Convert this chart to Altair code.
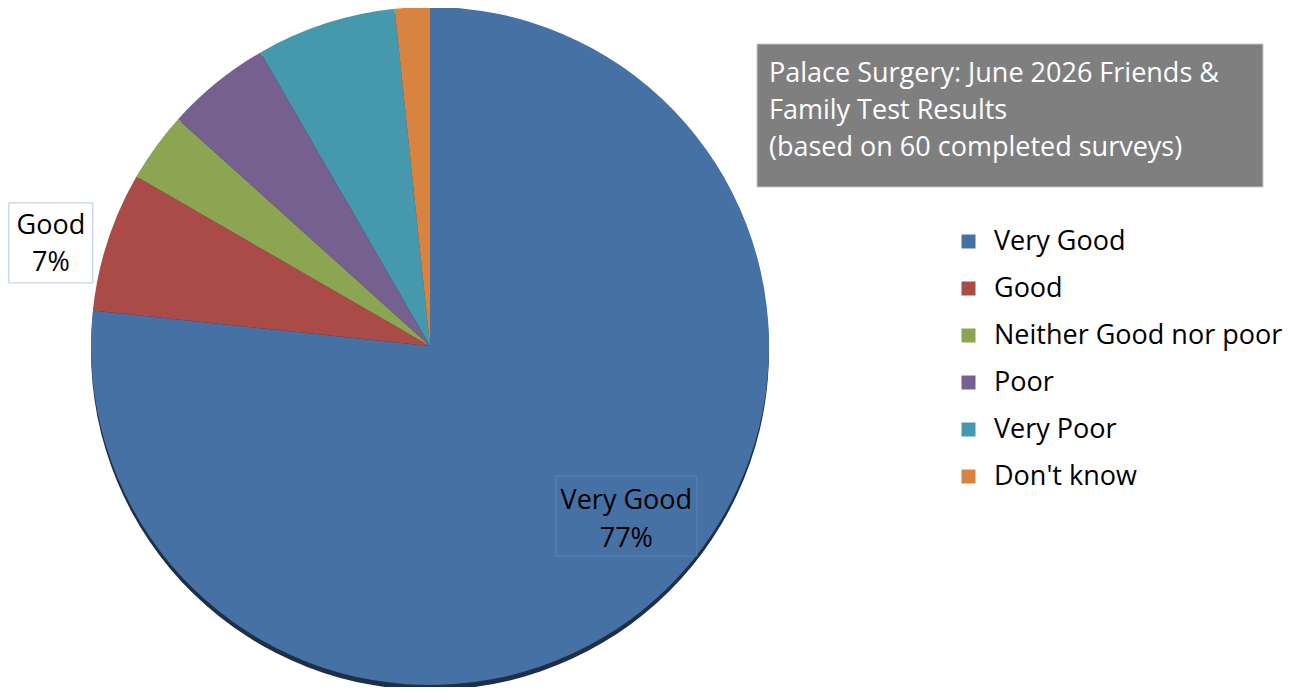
import altair as alt
import pandas as pd

categories = ["Very Good", "Good", "Neither Good nor poor", "Poor", "Very Poor", "Don't know"]
counts = [46, 4, 2, 3, 4, 1]
colors = ["#4671a5", "#aa4b48", "#8ba552", "#76608f", "#4698ad", "#d88440"]
title_lines = ["Palace Surgery: June 2026 Friends &", "Family Test Results", "(based on 60 completed surveys)"]

df = pd.DataFrame({"category": categories, "count": counts, "idx": list(range(len(categories)))})

CX, CY, R = 422, 338, 339
FONT = "Open Sans"
FS = 27

base = alt.Chart(df)

shadow = base.mark_arc(outerRadius=R, color="#1e3049", strokeWidth=0).encode(
    theta=alt.Theta("count:Q", stack=True),
    order=alt.Order("idx:Q"),
    x=alt.value(CX),
    y=alt.value(CY + 5),
)

pie = base.mark_arc(outerRadius=R, strokeWidth=0).encode(
    theta=alt.Theta("count:Q", stack=True),
    order=alt.Order("idx:Q"),
    color=alt.Color(
        "category:N",
        scale=alt.Scale(domain=categories, range=colors),
        legend=alt.Legend(
            title=None,
            orient="none",
            legendX=947,
            legendY=220,
            symbolType="square",
            symbolSize=196,
            symbolStrokeWidth=0,
            labelFont=FONT,
            labelFontSize=FS,
            labelColor="#000000",
            labelOffset=12,
            rowPadding=19,
            labelLimit=400,
        ),
    ),
    x=alt.value(CX),
    y=alt.value(CY),
)


def label_layers(cat, r, ox, oy, w, h, fill, stroke, line_h, dy):
    src = (
        base.transform_joinaggregate(total="sum(count)")
        .transform_window(cum="sum(count)", sort=[alt.SortField("idx")])
        .transform_calculate(mid="(datum.cum - datum.count / 2) / datum.total * 2 * PI")
        .transform_calculate(
            lx=f"{CX} + {r} * sin(datum.mid) + ({ox})",
            ly=f"{CY} - {r} * cos(datum.mid) + ({oy})",
            label="datum.category + '|' + format(datum.count / datum.total, '.0%')",
        )
        .transform_calculate(
            bx1=f"datum.lx - {w / 2}",
            bx2=f"datum.lx + {w / 2}",
            by1=f"datum.ly - {h / 2}",
            by2=f"datum.ly + {h / 2}",
        )
        .transform_filter(alt.datum.category == cat)
    )
    box = src.mark_rect(fill=fill, stroke=stroke, strokeWidth=1).encode(
        x=alt.X("bx1:Q", scale=None, axis=None),
        x2="bx2:Q",
        y=alt.Y("by1:Q", scale=None, axis=None),
        y2="by2:Q",
    )
    txt = src.mark_text(
        font=FONT, fontSize=FS, color="#000000", lineBreak="|", lineHeight=line_h,
        align="center", baseline="middle", dy=dy,
    ).encode(
        x=alt.X("lx:Q", scale=None, axis=None),
        y=alt.Y("ly:Q", scale=None, axis=None),
        text="label:N",
    )
    return [box, txt]


good_layers = label_layers("Good", 395, -3.5, 19, 84, 80, "#ffffff", "#b4c7e7", 37, -17)
vg_layers = label_layers("Very Good", 265, 19, -27, 141, 80, "transparent", "#5a80b2", 38, -15)

title_box = alt.Chart(pd.DataFrame({"t": [0]})).mark_rect(
    fill="#7f7f7f", stroke="#c8c8c8", strokeWidth=1
).encode(
    x=alt.value(749), x2=alt.value(1255), y=alt.value(36), y2=alt.value(179)
)

title_text = alt.Chart(pd.DataFrame({"t": ["|".join(title_lines)]})).mark_text(
    font=FONT, fontSize=FS, color="#ffffff", align="left", baseline="top",
    lineBreak="|", lineHeight=37,
).encode(
    x=alt.value(761), y=alt.value(53), text="t:N"
)

chart = alt.layer(shadow, pie, *good_layers, *vg_layers, title_box, title_text).properties(
    width=1284,
    height=679,
    autosize=alt.AutoSizeParams(type="none"),
    padding=0,
).configure_view(stroke=None)

chart.save("out.html", embed_options={"renderer": "svg", "actions": False})
